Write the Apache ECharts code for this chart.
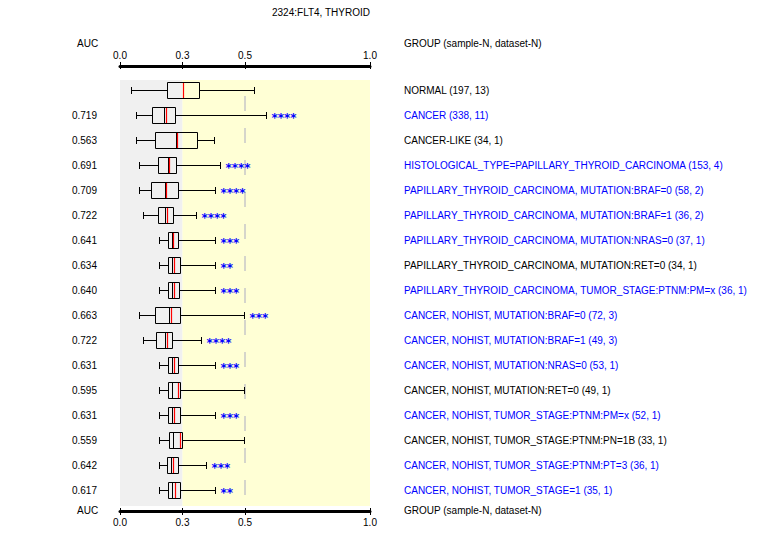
<!DOCTYPE html>
<html>
<head>
<meta charset="utf-8">
<script src="https://cdn.jsdelivr.net/npm/echarts@6.0.0/dist/echarts.min.js"></script>
<style>
html,body{margin:0;padding:0;background:#fff;}
#chart{width:765px;height:555px;}
</style>
</head>
<body>
<div id="chart"></div>
<script>
// ---------- data ----------
const chartTitle = "2324:FLT4, THYROID";
const groupLabels = [
  "NORMAL (197, 13)",
  "CANCER (338, 11)",
  "CANCER-LIKE (34, 1)",
  "HISTOLOGICAL_TYPE=PAPILLARY_THYROID_CARCINOMA (153, 4)",
  "PAPILLARY_THYROID_CARCINOMA, MUTATION:BRAF=0 (58, 2)",
  "PAPILLARY_THYROID_CARCINOMA, MUTATION:BRAF=1 (36, 2)",
  "PAPILLARY_THYROID_CARCINOMA, MUTATION:NRAS=0 (37, 1)",
  "PAPILLARY_THYROID_CARCINOMA, MUTATION:RET=0 (34, 1)",
  "PAPILLARY_THYROID_CARCINOMA, TUMOR_STAGE:PTNM:PM=x (36, 1)",
  "CANCER, NOHIST, MUTATION:BRAF=0 (72, 3)",
  "CANCER, NOHIST, MUTATION:BRAF=1 (49, 3)",
  "CANCER, NOHIST, MUTATION:NRAS=0 (53, 1)",
  "CANCER, NOHIST, MUTATION:RET=0 (49, 1)",
  "CANCER, NOHIST, TUMOR_STAGE:PTNM:PM=x (52, 1)",
  "CANCER, NOHIST, TUMOR_STAGE:PTNM:PN=1B (33, 1)",
  "CANCER, NOHIST, TUMOR_STAGE:PTNM:PT=3 (36, 1)",
  "CANCER, NOHIST, TUMOR_STAGE=1 (35, 1)"
];
const highlighted = [0,1,0,1,1,1,1,0,1,1,1,1,0,1,0,1,1];
const aucValues = ["", "0.719", "0.563", "0.691", "0.709", "0.722", "0.641", "0.634", "0.640",
                   "0.663", "0.722", "0.631", "0.595", "0.631", "0.559", "0.642", "0.617"];
const significance = ["", "****", "", "****", "****", "****", "***", "**", "***",
                      "***", "****", "***", "", "***", "", "***", "**"];
const whiskerLow  = [0.043,0.063,0.063,0.076,0.076,0.091,0.155,0.155,0.155,0.076,0.091,0.155,0.155,0.155,0.155,0.155,0.155];
const quartile1   = [0.187,0.129,0.141,0.153,0.125,0.153,0.193,0.193,0.193,0.141,0.145,0.193,0.193,0.193,0.197,0.189,0.193];
const medianVals  = [0.253,0.177,0.225,0.192,0.181,0.181,0.207,0.207,0.207,0.195,0.181,0.209,0.209,0.209,0.211,0.205,0.209];
const quartile3   = [0.317,0.221,0.309,0.225,0.233,0.213,0.231,0.239,0.235,0.241,0.209,0.233,0.241,0.241,0.249,0.233,0.241];
const whiskerHigh = [0.537,0.584,0.377,0.401,0.381,0.305,0.381,0.381,0.381,0.497,0.325,0.381,0.497,0.381,0.497,0.345,0.381];
const meanVals    = [0.253,0.185,0.229,0.196,0.185,0.188,0.211,0.217,0.216,0.204,0.188,0.216,0.233,0.216,0.241,0.212,0.221];
const tickValues = [0, 0.25, 0.5, 1];
const tickLabels = ["0.0", "0.3", "0.5", "1.0"];
const regionBreaks = [0, 0.25, 1];
const referenceLine = 0.5;
const headerLeft = "AUC";
const headerRight = "GROUP (sample-N, dataset-N)";

// ---------- styling ----------
const FONT = "Liberation Sans";
const FONT_CSS = '10px "' + FONT + '"';
const BLUE = "#0000ff";

const boxData = groupLabels.map((_, i) =>
  [i, whiskerLow[i], quartile1[i], medianVals[i], quartile3[i], whiskerHigh[i], meanVals[i]]);

function renderBackground(params, api) {
  const cs = params.coordSys;
  const x0 = api.coord([regionBreaks[0], 0])[0];
  const x1 = api.coord([regionBreaks[1], 0])[0];
  const x2 = api.coord([regionBreaks[2], 0])[0];
  const xr = Math.round(api.coord([referenceLine, 0])[0]);
  return {
    type: 'group',
    children: [
      {type:'rect', shape:{x:x0, y:cs.y, width:x1-x0, height:cs.height}, style:{fill:'#f0f0f0'}},
      {type:'rect', shape:{x:x1, y:cs.y, width:x2-x1, height:cs.height}, style:{fill:'#ffffd5'}},
      {type:'line', shape:{x1:xr, y1:cs.y, x2:xr, y2:cs.y+cs.height},
        style:{stroke:'#c8c8c8', lineWidth:1.5, lineDash:[15,17], lineDashOffset:16}}
    ]
  };
}

function renderBox(params, api) {
  const i = api.value(0);
  const y = Math.round(api.coord([0, i])[1]) + 0.5;
  const px = k => Math.round(api.coord([api.value(k), i])[0]) + 0.5;
  const xMin = px(1), xQ1 = px(2), xMed = px(3), xQ3 = px(4), xMax = px(5), xMean = px(6);
  const h = 8, cap = 3.5;
  const ls = {stroke:'#000', lineWidth:1};
  const x0 = api.coord([0, i])[0];
  const x1 = api.coord([1, i])[0];
  const color = highlighted[i] ? BLUE : '#000';
  const children = [
    {type:'line', shape:{x1:xMin, y1:y, x2:xQ1, y2:y}, style:ls},
    {type:'line', shape:{x1:xQ3, y1:y, x2:xMax, y2:y}, style:ls},
    {type:'line', shape:{x1:xMin, y1:y-cap, x2:xMin, y2:y+cap}, style:ls},
    {type:'line', shape:{x1:xMax, y1:y-cap, x2:xMax, y2:y+cap}, style:ls},
    {type:'rect', shape:{x:xQ1, y:y-h, width:xQ3-xQ1, height:2*h}, style:{fill:null, stroke:'#000', lineWidth:1}},
    {type:'line', shape:{x1:xMed, y1:y-h, x2:xMed, y2:y+h}, style:ls},
    {type:'line', z2:5, shape:{x1:xMean, y1:y-h+0.5, x2:xMean, y2:y+h-0.5}, style:{stroke:'#ff0000', lineWidth:1.2}},
    {type:'text', style:{text: aucValues[i], x: x0-23, y: y, align:'right', verticalAlign:'middle',
      font: FONT_CSS, fill:'#000'}},
    {type:'text', style:{text: groupLabels[i], x: x1+34, y: y, align:'left', verticalAlign:'middle',
      font: FONT_CSS, fill: color}}
  ];
  if (significance[i]) {
    children.push({type:'text', style:{text: significance[i], x: xMax+5, y: y+2, align:'left', verticalAlign:'middle',
      font: 'bold 12px "DejaVu Sans"', fill: BLUE}});
  }
  return {type:'group', children};
}

const axisLabelFmt = v => {
  const k = tickValues.findIndex(t => Math.abs(t - v) < 1e-9);
  return k >= 0 ? tickLabels[k] : '';
};

function mkAxis(position, offset, tickInside, withLine, len) {
  return {
    type:'value', position, offset, min:0, max:1,
    axisLine:{show:withLine, onZero:false, lineStyle:{color:'#000', width:3}},
    axisTick:{show:true, inside:tickInside, length:len, customValues:tickValues, lineStyle:{color:'#000', width:1}},
    axisLabel:{show:withLine, customValues:tickValues, formatter:axisLabelFmt, margin:6,
      fontSize:10, fontFamily:FONT, color:'#000'},
    splitLine:{show:false}
  };
}

const chart = echarts.init(document.getElementById('chart'), null, {renderer:'svg'});
chart.setOption({
  animation:false,
  backgroundColor:'#ffffff',
  title:{text:chartTitle, left:267, top:2,
    textStyle:{fontSize:10, fontWeight:'normal', fontFamily:FONT, color:'#000'}},
  grid:{left:120, right:395, top:80, bottom:49},
  xAxis:[
    mkAxis('top', 14, false, true, 4),
    mkAxis('top', 14, true, false, 3),
    mkAxis('bottom', 5, false, true, 4),
    mkAxis('bottom', 5, true, false, 3)
  ],
  yAxis:{type:'value', inverse:true, min:-0.4, max:16.64, show:false},
  graphic:[
    {type:'text', left:77, top:38, style:{text:headerLeft, font:FONT_CSS, fill:'#000'}},
    {type:'text', left:404, top:38, style:{text:headerRight, font:FONT_CSS, fill:'#000'}},
    {type:'text', left:77, top:505, style:{text:headerLeft, font:FONT_CSS, fill:'#000'}},
    {type:'text', left:404, top:505, style:{text:headerRight, font:FONT_CSS, fill:'#000'}}
  ],
  series:[
    {type:'custom', name:'background', xAxisIndex:0, yAxisIndex:0, renderItem:renderBackground,
      data:[[0,0]], clip:false, silent:true, z:1},
    {type:'custom', name:'AUC', xAxisIndex:0, yAxisIndex:0, renderItem:renderBox,
      data:boxData, encode:{y:0, x:[1,2,3,4,5,6]}, clip:false, silent:true, z:2}
  ]
});
</script>
</body>
</html>
